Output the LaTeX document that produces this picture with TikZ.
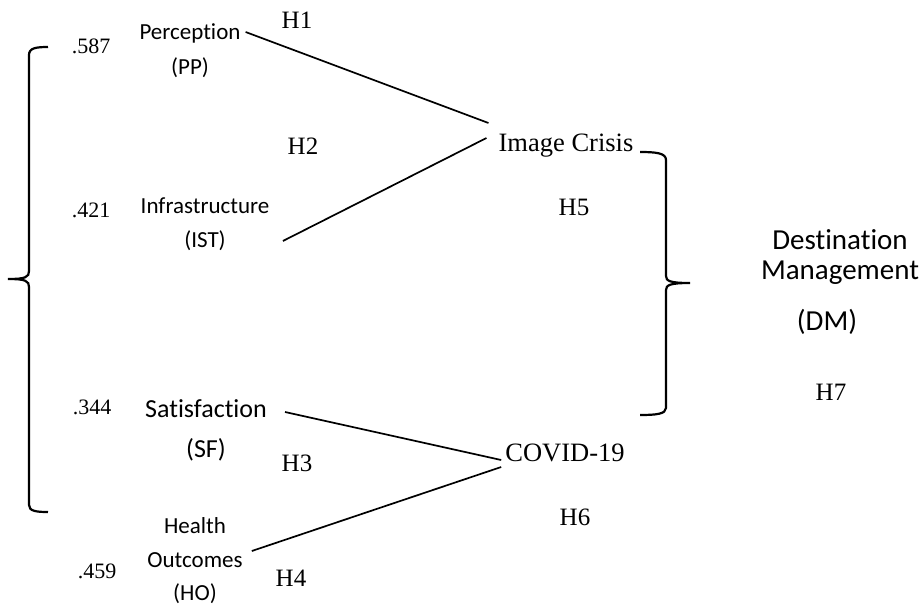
\documentclass[tikz,border=0pt]{standalone}
\usepackage{fontspec}
\setmainfont{Liberation Serif}
\newfontfamily\calib[Ligatures={NoCommon}]{Carlito}

\begin{document}
\begin{tikzpicture}[x=1pt,y=-1pt,
  construct/.style={inner sep=0pt,font=\calib\fontsize{23}{27}\selectfont},
  bigconstruct/.style={inner sep=0pt,font=\calib\fontsize{26}{30}\selectfont},
  outcome/.style={inner sep=0pt,align=center,font=\calib\fontsize{29}{29.5}\selectfont},
  loading/.style={inner sep=0pt,font=\fontsize{22}{26}\selectfont},
  hyp/.style={inner sep=0pt,font=\fontsize{25}{29}\selectfont},
  mediator/.style={inner sep=0pt,font=\fontsize{26.5}{30}\selectfont},
  link/.style={line width=1.7pt},
  bracket/.style={line width=2.2pt}]

\useasboundingbox (0,0) rectangle (924,606);

% independent constructs
\node[construct] (pp) at (190,33) {Perception};
\node[construct,below of=pp,node distance=35pt] (ppab) {(PP)};

\node[construct] (ist) at (205,206) {Infrastructure};
\node[construct,below of=ist,node distance=35pt] (istab) {(IST)};

\node[bigconstruct] (sf) at (206,409) {Satisfaction};
\node[bigconstruct,below of=sf,node distance=41pt] (sfab) {(SF)};

\node[construct] (ho) at (195,526) {Health};
\node[construct,below of=ho,node distance=34pt] (hoout) {Outcomes};
\node[construct,below of=hoout,node distance=34pt] (hoab) {(HO)};

% loadings
\node[loading] (lpp) at (91,46) {.587};
\node[loading] (list) at (91,210) {.421};
\node[loading] (lsf) at (92,407) {.344};
\node[loading] (lho) at (97,571) {.459};

% mediators
\node[mediator] (ic) at (566,146) {Image Crisis};
\node[mediator] (cv) at (565,453) {COVID-19};

% outcome
\node[outcome] (dm) at (840,257) {Destination\\Management};
\node[outcome] (dmab) at (827,322) {(DM)};

% hypotheses
\node[hyp] (h1) at (297,20) {H1};
\node[hyp] (h2) at (303,146) {H2};
\node[hyp] (h3) at (297,463) {H3};
\node[hyp] (h4) at (291,578) {H4};
\node[hyp] (h5) at (574,207) {H5};
\node[hyp] (h6) at (575,517) {H6};
\node[hyp] (h7) at (831,392) {H7};

% paths
\draw[link] ([xshift=5pt,yshift=1pt]pp.east) -- ([xshift=-10pt,yshift=23pt]ic.west);
\draw[link] ([xshift=57pt]istab.east) -- ([xshift=-12pt,yshift=8pt]ic.west);
\draw[link] ([xshift=18pt,yshift=-3pt]sf.east) -- ([xshift=-4pt,yshift=-7pt]cv.west);
\draw[link] ([xshift=9pt,yshift=9pt]hoout.east) -- ([xshift=-4pt,yshift=-14pt]cv.west);

% braces
\draw[bracket] (48,47) .. controls (36,47) and (29,48) .. (29,55)
  -- (29,271) .. controls (29,277) and (26,279) .. (8,279)
  .. controls (26,279) and (29,281) .. (29,287)
  -- (29,505) .. controls (29,511) and (36,512) .. (48,512);

\draw[bracket] (640,152) .. controls (656,152) and (666,153) .. (666,160)
  -- (666,276) .. controls (666,281) and (670,283) .. (690,283)
  .. controls (670,283) and (666,285) .. (666,290)
  -- (666,408) .. controls (666,414) and (656,415) .. (640,415);

\end{tikzpicture}
\end{document}
